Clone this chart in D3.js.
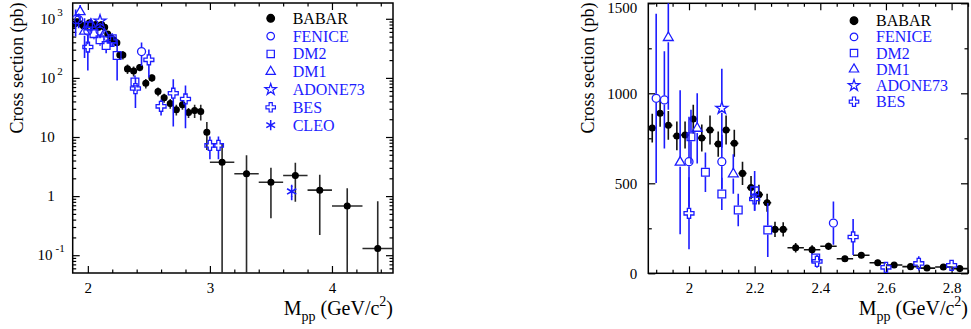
<!DOCTYPE html>
<html>
<head>
<meta charset="utf-8">
<script src="https://cdn.jsdelivr.net/npm/d3@7"></script>
<style>
  body { margin: 0; background: #fff; }
  svg text { font-family: "Liberation Serif", "DejaVu Serif", serif; }
</style>
</head>
<body>
<svg id="chart" width="971" height="329" font-family="Liberation Serif, serif"></svg>
<script>
// ---- data ----
const babarMass = [1.888,1.912,1.937,1.963,1.988,2.013,2.039,2.064,2.089,2.113,2.138,2.163,2.189,2.213,2.238,2.262,2.287,
                   2.325,2.375,2.425,2.475,2.525,2.575,2.625,2.675,2.725,2.775,2.825,2.875,2.925,2.975,
                   3.1,3.3,3.5,3.7,3.9,4.125,4.375];
const babarXsec = [807,889,822,763,768,857,752,796,718,796,722,555,476,437,392,244,244,
                   142,131,150,81,100,59,46,37,29,35,26,28,27,12,
                   3.74,2.39,1.72,2.23,1.26,0.68,0.13];
const babarErr  = [80,75,80,80,75,80,75,80,70,80,75,65,65,55,50,42,40,
                   26,25,20,15,14,10,8,7,6,6,5,7,8,6,
                   4.2,2.5,1.3,1.43,1.04,0.68,0.69];
const babarHalfBin = [0.0125,0.0125,0.0125,0.0125,0.0125,0.0125,0.0125,0.0125,0.0125,0.0125,0.0125,0.0125,0.0125,0.0125,0.0125,0.0125,0.0125,
                      0.025,0.025,0.025,0.025,0.025,0.025,0.025,0.025,0.025,0.025,0.025,0.025,0.025,0.025,
                      0.1,0.1,0.1,0.1,0.1,0.125,0.125];

const feniceMass = [1.900,1.925,2.000,2.100,2.440];
const feniceXsec = [972,963,620,620,279];
const feniceErr  = [470,270,250,150,120];

const dm2Mass = [2.006,2.050,2.100,2.150,2.200,2.240,2.386];
const dm2Xsec = [759,561,441,352,458,240,85];
const dm2Err  = [150,110,90,90,110,150,25];

const dm1Mass = [1.937,1.973,2.025,2.135];
const dm1Xsec = [1309,617,805,552];
const dm1Err  = [400,400,195,110];

const adoneMass = [2.100];
const adoneXsec = [917];
const adoneErr  = [220];

const besMass = [2.000,2.200,2.390,2.500,2.600,2.700,2.800,3.000,3.070];
const besXsec = [333,413,66,202,33,55,44,7.2,7.2];
const besErr  = [200,65,35,100,10,40,30,3,3];

const cleoMass = [3.67];
const cleoXsec = [1.2];
const cleoErr  = [0.35];

const logTickValues = [0.1, 1, 10, 100, 1000];
const logTickBase   = ['10', '1', '10', '10', '10'];
const logTickSup    = ['-1', '', '', '2', '3'];
const linTickValues = [0, 500, 1000, 1500];
const leftXTicks  = [2, 3, 4];
const rightXTicks = [2, 2.2, 2.4, 2.6, 2.8];

// ---- series ----
const blue = 'rgb(28,28,255)';
function pack(m, s, e, w) {
  return m.map((v, i) => ({ m: v, s: s[i], e: e[i], w: w ? w[i] : 0 }));
}
const series = [
  { name: 'BABAR',   pts: pack(babarMass, babarXsec, babarErr, babarHalfBin), color: 'black', sym: d3.symbolCircle, size: 26, filled: true },
  { name: 'FENICE',  pts: pack(feniceMass, feniceXsec, feniceErr), color: blue, sym: d3.symbolCircle,   size: 50 },
  { name: 'DM2',     pts: pack(dm2Mass, dm2Xsec, dm2Err),          color: blue, sym: d3.symbolSquare,   size: 60 },
  { name: 'DM1',     pts: pack(dm1Mass, dm1Xsec, dm1Err),          color: blue, sym: d3.symbolTriangle, size: 42 },
  { name: 'ADONE73', pts: pack(adoneMass, adoneXsec, adoneErr),    color: blue, sym: d3.symbolStar,     size: 45 },
  { name: 'BES',     pts: pack(besMass, besXsec, besErr),          color: blue, sym: d3.symbolCross,    size: 55 },
  { name: 'CLEO',    pts: pack(cleoMass, cleoXsec, cleoErr),       color: blue, sym: d3.symbolAsterisk, size: 80, stroked: true }
];

const svg = d3.select('#chart');

function drawPanel(p) {
  const x = d3.scaleLinear().domain(p.xDomain).range([p.left, p.right]);
  const y = (p.log ? d3.scaleLog() : d3.scaleLinear()).domain(p.yDomain).range([p.bottom, p.top]);
  const g = svg.append('g');

  svg.append('clipPath').attr('id', 'clip-' + p.id)
    .append('rect')
    .attr('x', p.left).attr('y', p.top)
    .attr('width', p.right - p.left).attr('height', p.bottom - p.top);

  // ticks, all pointing inwards, mirrored on top/right
  const axes = g.append('g');
  function addAxis(axis, tx, ty) {
    const a = axes.append('g').attr('transform', `translate(${tx},${ty})`).call(axis);
    a.select('.domain').remove();
    a.attr('font-size', 15).attr('font-family', 'Liberation Serif, serif');
    a.selectAll('line').attr('stroke-width', 1.2);
    return a;
  }
  const xMinor = p.xMinor.filter(v => !p.xMajor.some(t => Math.abs(t - v) < 1e-6));
  addAxis(d3.axisBottom(x).tickValues(p.xMajor).tickSize(-7).tickPadding(9).tickFormat(d3.format('')), 0, p.bottom);
  addAxis(d3.axisBottom(x).tickValues(xMinor).tickSize(-3.5).tickFormat(''), 0, p.bottom);
  addAxis(d3.axisTop(x).tickValues(p.xMajor).tickSize(-7).tickFormat(''), 0, p.top);
  addAxis(d3.axisTop(x).tickValues(xMinor).tickSize(-3.5).tickFormat(''), 0, p.top);

  if (p.log) {
    addAxis(d3.axisLeft(y).tickValues(logTickValues).tickSize(-7).tickFormat(''), p.left, 0);
    addAxis(d3.axisLeft(y).tickValues(p.yMinor).tickSize(-3.5).tickFormat(''), p.left, 0);
    addAxis(d3.axisRight(y).tickValues(logTickValues).tickSize(-7).tickFormat(''), p.right, 0);
    addAxis(d3.axisRight(y).tickValues(p.yMinor).tickSize(-3.5).tickFormat(''), p.right, 0);
    // decade labels with superscripts
    logTickValues.forEach((v, i) => {
      const sup = logTickSup[i];
      const t = g.append('text')
        .attr('x', p.left - (sup ? (sup.length > 1 ? 8 : 10) : 18))
        .attr('y', y(v) + 5)
        .attr('text-anchor', 'end')
        .attr('font-size', 15);
      t.append('tspan').text(logTickBase[i]);
      if (sup) t.append('tspan').attr('dx', sup.length > 1 ? 3 : 2).attr('dy', -8).attr('font-size', 11).text(sup);
    });
  } else {
    const ya = addAxis(d3.axisLeft(y).tickValues(linTickValues).tickSize(-7).tickPadding(11).tickFormat(d3.format('d')), p.left, 0);
    // keep the top label inside the picture
    ya.selectAll('.tick text').filter(d => d === p.yDomain[1]).attr('dy', '0.62em');
    addAxis(d3.axisLeft(y).tickValues(p.yMinor).tickSize(-3.5).tickFormat(''), p.left, 0);
    addAxis(d3.axisRight(y).tickValues(linTickValues).tickSize(-7).tickFormat(''), p.right, 0);
    addAxis(d3.axisRight(y).tickValues(p.yMinor).tickSize(-3.5).tickFormat(''), p.right, 0);
  }

  // frame
  g.append('rect')
    .attr('x', p.left).attr('y', p.top)
    .attr('width', p.right - p.left).attr('height', p.bottom - p.top)
    .attr('fill', 'none').attr('stroke', 'black').attr('stroke-width', 1.5);

  // data
  const plot = g.append('g').attr('clip-path', `url(#clip-${p.id})`);
  const floor = p.log ? p.yDomain[0] / 10 : p.yDomain[0] - 100;
  const shown = series.map(sr => ({ sr, pts: sr.pts.filter(d => d.m >= p.xDomain[0] && d.m <= p.xDomain[1]) }))
                      .filter(o => o.pts.length);

  shown.forEach(({ sr, pts }) => {
    const gap = sr.filled ? 0 : 4.5;
    const sg = plot.append('g');
    const barCol = sr.filled ? (p.log ? '#2a2a2a' : '#111') : sr.color;
    // upper and lower halves of the vertical error bar, leaving room for open markers
    sg.selectAll(null).data(pts).join('line')
      .attr('x1', d => x(d.m)).attr('x2', d => x(d.m))
      .attr('y1', d => y(d.s) - gap)
      .attr('y2', d => Math.min(y(d.s + d.e), y(d.s) - gap))
      .attr('stroke', barCol).attr('stroke-width', 1.6);
    sg.selectAll(null).data(pts).join('line')
      .attr('x1', d => x(d.m)).attr('x2', d => x(d.m))
      .attr('y1', d => y(d.s) + gap)
      .attr('y2', d => Math.max(y(Math.max(d.s - d.e, floor)), y(d.s) + gap))
      .attr('stroke', barCol).attr('stroke-width', 1.6);
    if (sr.filled) {
      sg.selectAll(null).data(pts).join('line')
        .attr('x1', d => x(d.m - d.w)).attr('x2', d => x(d.m + d.w))
        .attr('y1', d => y(d.s)).attr('y2', d => y(d.s))
        .attr('stroke', barCol).attr('stroke-width', 1.6);
    }
    sg.selectAll(null).data(pts).join('path')
      .attr('transform', d => `translate(${x(d.m)},${y(d.s)})`)
      .attr('d', d3.symbol(sr.sym, sr.size))
      .attr('fill', sr.filled ? sr.color : 'none')
      .attr('stroke', sr.color)
      .attr('stroke-width', sr.stroked ? 1.6 : 1.3);
  });

  // legend
  const lg = g.append('g');
  shown.forEach(({ sr }, i) => {
    const ly = p.legendY + i * p.legendStep;
    lg.append('path')
      .attr('transform', `translate(${p.legendX},${ly})`)
      .attr('d', d3.symbol(sr.sym, sr.filled ? 46 : sr.size * 0.9))
      .attr('fill', sr.filled ? sr.color : 'none')
      .attr('stroke', sr.color)
      .attr('stroke-width', sr.stroked ? 1.5 : 1.2);
    lg.append('text')
      .attr('x', p.legendX + 22).attr('y', ly + 5.5)
      .attr('font-size', 16)
      .attr('fill', sr.color)
      .text(sr.name);
  });

  // axis titles
  g.append('text')
    .attr('transform', `translate(${p.left - p.yTitleOffset},${p.yTitleY}) rotate(-90)`)
    .attr('text-anchor', 'middle')
    .attr('font-size', 18)
    .text('Cross section (pb)');

  const xt = g.append('text')
    .attr('x', p.right).attr('y', 315)
    .attr('text-anchor', 'end')
    .attr('font-size', 20);
  xt.append('tspan').text('M');
  xt.append('tspan').attr('dy', 6).attr('font-size', 14).text('pp');
  xt.append('tspan').attr('dy', -6).text(' (GeV/c');
  xt.append('tspan').attr('dy', -9).attr('font-size', 14).text('2');
  xt.append('tspan').attr('dy', 9).text(')');
}

// log minor ticks: 2..9 times each decade
const logMinor = [];
[-2, -1, 0, 1, 2, 3].forEach(dec => d3.range(2, 10).forEach(k => logMinor.push(k * Math.pow(10, dec))));

drawPanel({
  id: 'left', log: true,
  left: 72.7, right: 393, top: 3, bottom: 273,
  xDomain: [1.876, 4.5], yDomain: [0.05, 1850],
  xMajor: leftXTicks,
  xMinor: d3.range(10, 23).map(i => +(i * 0.2).toFixed(2)),
  yMinor: logMinor.filter(v => v > 0.05 && v < 1850),
  legendX: 270.7, legendY: 18.3, legendStep: 17.8,
  yTitleOffset: 49.5, yTitleY: 68
});

drawPanel({
  id: 'right', log: false,
  left: 648.3, right: 968, top: 3.3, bottom: 273.3,
  xDomain: [1.876, 2.85], yDomain: [0, 1500],
  xMajor: rightXTicks,
  xMinor: d3.range(38, 58).map(i => +(i * 0.05).toFixed(2)),
  yMinor: [250, 750, 1250],
  legendX: 854, legendY: 20.7, legendStep: 16.2,
  yTitleOffset: 54.5, yTitleY: 68
});
</script>
</body>
</html>
